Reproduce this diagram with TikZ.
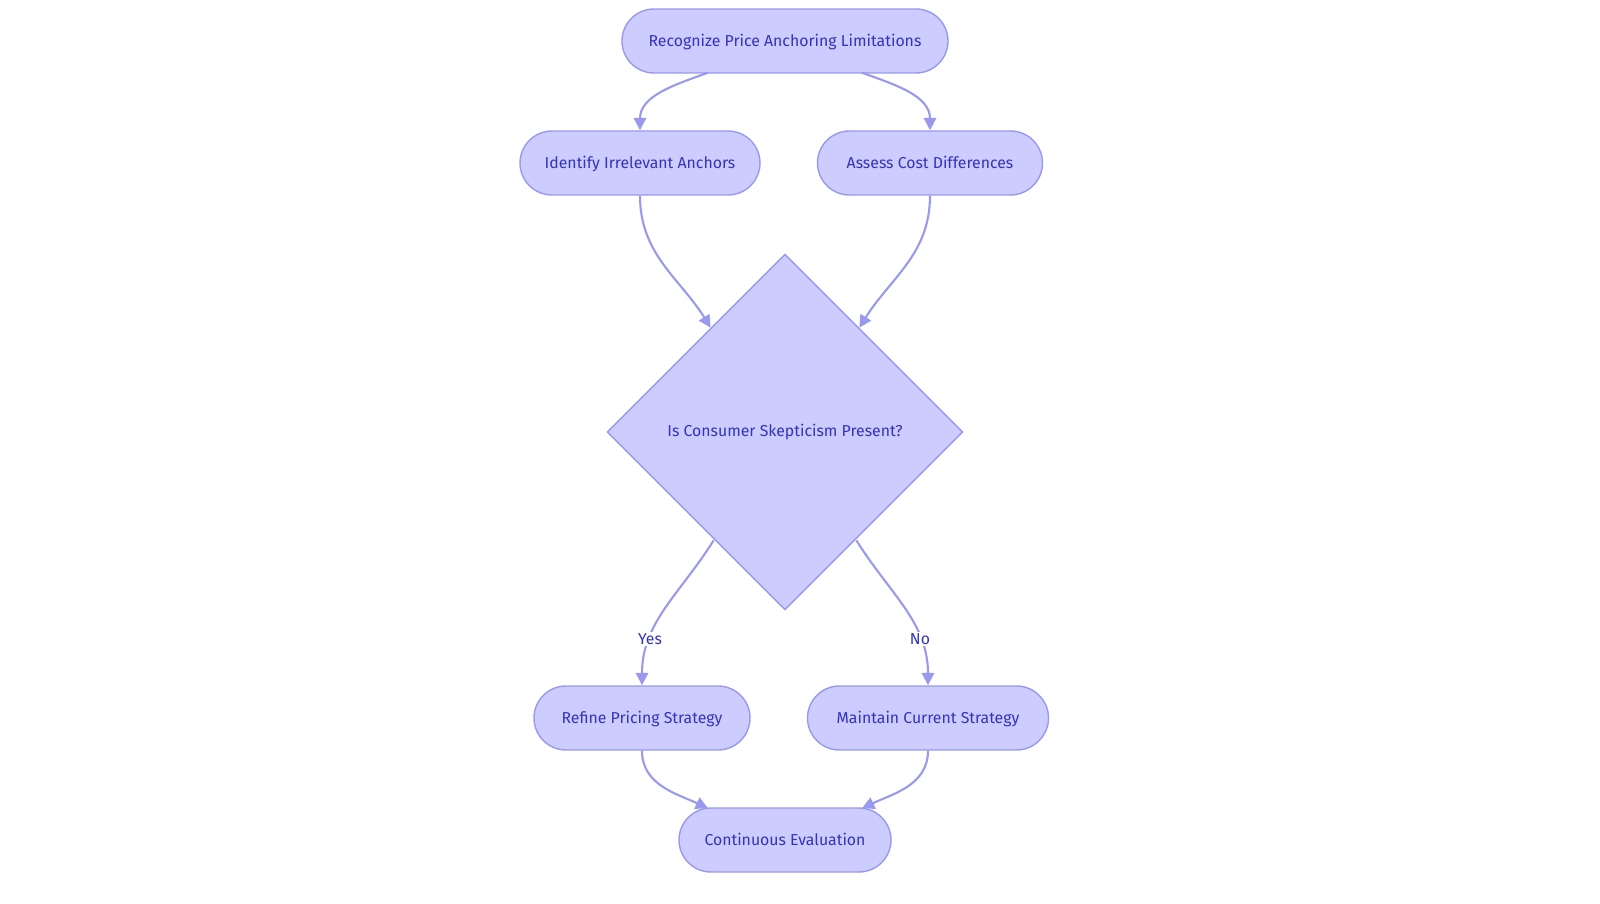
\documentclass[tikz,border=0pt]{standalone}
\usepackage{fontspec}
\setmainfont{Fira Sans}
\usetikzlibrary{arrows.meta,calc,shapes.geometric,shapes.misc}
\definecolor{boxfill}{HTML}{CCCCFF}
\definecolor{boxline}{HTML}{9999EE}
\definecolor{boxtext}{HTML}{3333BB}
\begin{document}
\begin{tikzpicture}[>={Triangle[length=7pt,width=7pt]},line width=1.2pt,
  step node/.style={rounded rectangle,fill=boxfill,draw=boxline,line width=0.8pt,
    text=boxtext,font=\fontsize{9}{11}\selectfont,minimum height=1.28cm,inner xsep=0pt,
    text height=1.6ex,text depth=0.4ex},
  choice node/.style={diamond,fill=boxfill,draw=boxline,line width=0.8pt,aspect=1,
    text=boxtext,font=\fontsize{9}{11}\selectfont,minimum size=7.12cm,inner sep=0pt},
  flow/.style={->,draw=boxline},
  answer/.style={fill=white,text=boxtext,font=\fontsize{9}{11}\selectfont,inner sep=1pt}]
\useasboundingbox (0,0) rectangle (32,18.06);

\node[step node,minimum width=6.52cm](recog) at (15.7,17.24) {Recognize Price Anchoring Limitations};
\node[step node,minimum width=4.8cm](ident) at (12.8,14.8) {Identify Irrelevant Anchors};
\node[step node,minimum width=4.5cm](assess) at (18.6,14.8) {Assess Cost Differences};
\node[choice node](skep) at (15.7,9.42) {Is Consumer Skepticism Present?};
\node[step node,minimum width=4.32cm](refine) at (12.84,3.7) {Refine Pricing Strategy};
\node[step node,minimum width=4.82cm](maint) at (18.56,3.7) {Maintain Current Strategy};
\node[step node,minimum width=4.24cm](cont) at (15.7,1.26) {Continuous Evaluation};

\coordinate (r1) at ($(recog.south)+(-1.54,0.02)$);
\coordinate (r2) at ($(recog.south)+(1.54,0.02)$);
\coordinate (c1) at ($(cont.north)+(-1.54,-0.02)$);
\coordinate (c2) at ($(cont.north)+(1.54,-0.02)$);
\coordinate (s1) at ($(skep.north west)+(0.3,0.3)$);
\coordinate (s2) at ($(skep.north east)+(-0.3,0.3)$);
\coordinate (s3) at ($(skep.south west)+(0.36,-0.38)$);
\coordinate (s4) at ($(skep.south east)+(-0.36,-0.38)$);

\draw[flow] (r1) to[out=200,in=90] (ident.north);
\draw[flow] (r2) to[out=-20,in=90] (assess.north);
\draw[flow] (ident.south) to[out=-90,in=122] (s1);
\draw[flow] (assess.south) to[out=-90,in=58] (s2);
\draw[flow] (s3) to[out=-122,in=90] node[answer,pos=0.72]{Yes} (refine.north);
\draw[flow] (s4) to[out=-58,in=90] node[answer,pos=0.72]{No} (maint.north);
\draw[flow] (refine.south) to[out=-90,in=155] (c1);
\draw[flow] (maint.south) to[out=-90,in=25] (c2);
\end{tikzpicture}
\end{document}
